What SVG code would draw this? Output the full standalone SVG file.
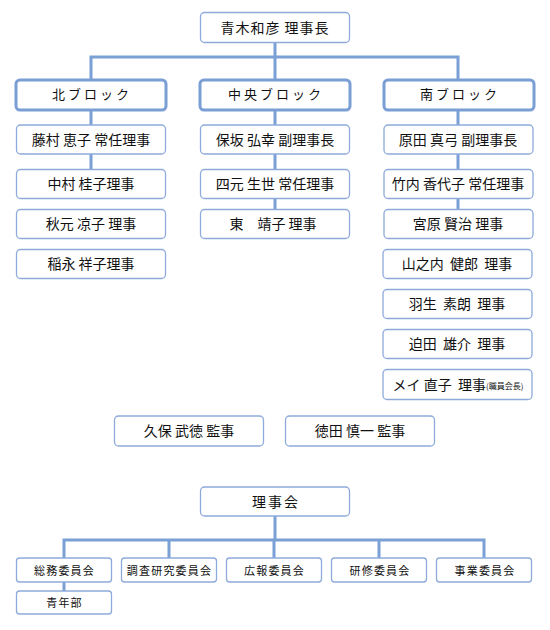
<svg xmlns="http://www.w3.org/2000/svg" width="550" height="630" viewBox="0 0 550 630">
<style>
.b{fill:#fff;stroke:#8eaadb;stroke-width:1.3}
.k{fill:#fff;stroke:#7b9fd4;stroke-width:3}
.c{fill:none;stroke:#7ba0d6;stroke-width:3}
text{font-family:"Noto Sans CJK JP","Noto Sans CJK SC",sans-serif;fill:#111;text-anchor:middle}
.t{font-size:14px}
.h{font-size:13px;letter-spacing:3px}
.s{font-size:11px;letter-spacing:1.2px}
.m{font-size:8px}
</style>
<rect width="550" height="630" fill="#fff"/>
<g id="connectors" class="c">
<path d="M275 42V57M91 80V57H458V80M275 57V80"/>
<path d="M91 110V125M91 154V169"/>
<path d="M275 110V125M275 154V169M275 199V209"/>
<path d="M458 110V125M458 154V169M458 199V209"/>
<path d="M275 516V540M64 558V540H484V558M169 540V558M274 540V558M379 540V558M64 582V591"/>
</g>
<g id="n-top"><rect class="b" x="200.5" y="12.5" width="149" height="30" rx="4"/><text class="t" x="275" y="32.5" letter-spacing="1">青木和彦 理事長</text></g>
<g id="n-north"><rect class="k" x="16" y="80" width="150" height="30" rx="4"/><text class="h" x="92" y="99">北ブロック</text></g>
<g id="n-center"><rect class="k" x="200" y="80" width="150" height="30" rx="4"/><text class="h" x="276" y="99">中央ブロック</text></g>
<g id="n-south"><rect class="k" x="384" y="80" width="150" height="30" rx="4"/><text class="h" x="460" y="99">南ブロック</text></g>

<g id="n-l1"><rect class="b" x="16.5" y="125" width="149" height="29" rx="4"/><text class="t" x="91" y="144.5">藤村 恵子 常任理事</text></g>
<g id="n-l2"><rect class="b" x="16.5" y="169.5" width="149" height="29" rx="4"/><text class="t" x="91" y="189">中村 桂子理事</text></g>
<g id="n-l3"><rect class="b" x="16.5" y="209.5" width="149" height="29" rx="4"/><text class="t" x="91" y="229">秋元 凉子 理事</text></g>
<g id="n-l4"><rect class="b" x="16.5" y="249.5" width="149" height="29" rx="4"/><text class="t" x="91" y="269">稲永 祥子理事</text></g>

<g id="n-c1"><rect class="b" x="200.5" y="125" width="149" height="29" rx="4"/><text class="t" x="275" y="144.5">保坂 弘幸 副理事長</text></g>
<g id="n-c2"><rect class="b" x="200.5" y="169.5" width="149" height="29" rx="4"/><text class="t" x="275" y="189">四元 生世 常任理事</text></g>
<g id="n-c3"><rect class="b" x="200.5" y="209.5" width="149" height="29" rx="4"/><text class="t" x="273" y="229">東　靖子 理事</text></g>

<g id="n-r1"><rect class="b" x="384" y="125" width="149" height="29" rx="4"/><text class="t" x="458" y="144.5">原田 真弓 副理事長</text></g>
<g id="n-r2"><rect class="b" x="384" y="169.5" width="149" height="29" rx="4"/><text class="t" x="458" y="189">竹内 香代子 常任理事</text></g>
<g id="n-r3"><rect class="b" x="384" y="209.5" width="149" height="29" rx="4"/><text class="t" x="458" y="229">宮原 賢治 理事</text></g>
<g id="n-r4"><rect class="b" x="383" y="249.5" width="149" height="29" rx="4"/><text class="t" x="457" y="269" xml:space="preserve">山之内  健郎  理事</text></g>
<g id="n-r5"><rect class="b" x="383" y="289.5" width="149" height="29" rx="4"/><text class="t" x="457" y="309" xml:space="preserve">羽生  素朗  理事</text></g>
<g id="n-r6"><rect class="b" x="383" y="329.5" width="149" height="29" rx="4"/><text class="t" x="457" y="349" xml:space="preserve">迫田  雄介  理事</text></g>
<g id="n-r7"><rect class="b" x="383" y="369.5" width="149" height="30" rx="4"/><text class="t" x="458" y="389.5" xml:space="preserve">メイ 直子  理事<tspan class="m" dy="-1">(職員会長)</tspan></text></g>

<g id="n-a1"><rect class="b" x="114.5" y="416" width="149" height="30" rx="4"/><text class="t" x="189" y="436">久保 武徳 監事</text></g>
<g id="n-a2"><rect class="b" x="285.5" y="416" width="149" height="30" rx="4"/><text class="t" x="360" y="436">徳田 慎一 監事</text></g>

<g id="n-board"><rect class="b" x="200.5" y="487" width="149" height="29" rx="4"/><text class="t" x="276" y="506.5" letter-spacing="2">理事会</text></g>
<g id="n-k1"><rect class="b" x="16.5" y="558" width="95" height="24" rx="3"/><text class="s" x="64.5" y="574.5" letter-spacing="2">総務委員会</text></g>
<g id="n-k2"><rect class="b" x="121.5" y="558" width="95" height="24" rx="3"/><text class="s" x="169.5" y="574.5" letter-spacing="0.4">調査研究委員会</text></g>
<g id="n-k3"><rect class="b" x="226.5" y="558" width="95" height="24" rx="3"/><text class="s" x="274.5" y="574.5" letter-spacing="2">広報委員会</text></g>
<g id="n-k4"><rect class="b" x="331.5" y="558" width="95" height="24" rx="3"/><text class="s" x="380" y="574.5" letter-spacing="2">研修委員会</text></g>
<g id="n-k5"><rect class="b" x="436.5" y="558" width="95" height="24" rx="3"/><text class="s" x="485" y="574.5" letter-spacing="2">事業委員会</text></g>
<g id="n-k6"><rect class="b" x="16.5" y="591" width="95" height="23" rx="3"/><text class="s" x="64.5" y="607" letter-spacing="2">青年部</text></g>
</svg>
